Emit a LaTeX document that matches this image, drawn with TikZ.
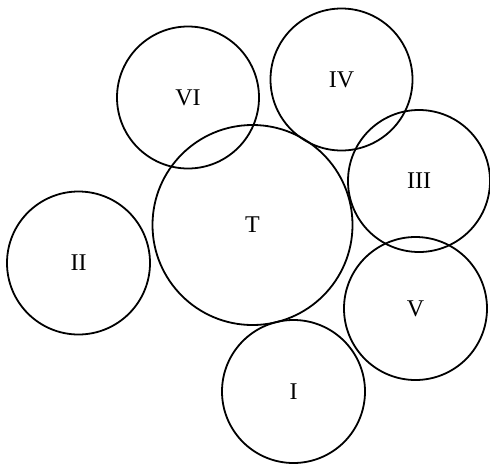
\documentclass[tikz,border=0pt]{standalone}
\usepackage{fontspec}
\setmainfont{Liberation Serif}
\begin{document}
\begin{tikzpicture}[x=1pt,y=-1pt,
  disc/.style={draw=black,circle,line width=1.8pt,inner sep=0pt,font=\fontsize{24}{28}\selectfont}]
\useasboundingbox (0,0) rectangle (490,466);
\node[disc,minimum size=200pt] (T) at (252.5,225) {T};
\node[disc,minimum size=142pt] (VI) at (188,97.5) {VI};
\node[disc,minimum size=142pt] (IV) at (341.5,79.5) {IV};
\node[disc,minimum size=142pt] (III) at (419,181) {III};
\node[disc,minimum size=143pt] (II) at (78.5,263) {II};
\node[disc,minimum size=143pt] (V) at (415.5,308.5) {V};
\node[disc,minimum size=143pt] (I) at (293.5,391.5) {I};
\end{tikzpicture}
\end{document}
